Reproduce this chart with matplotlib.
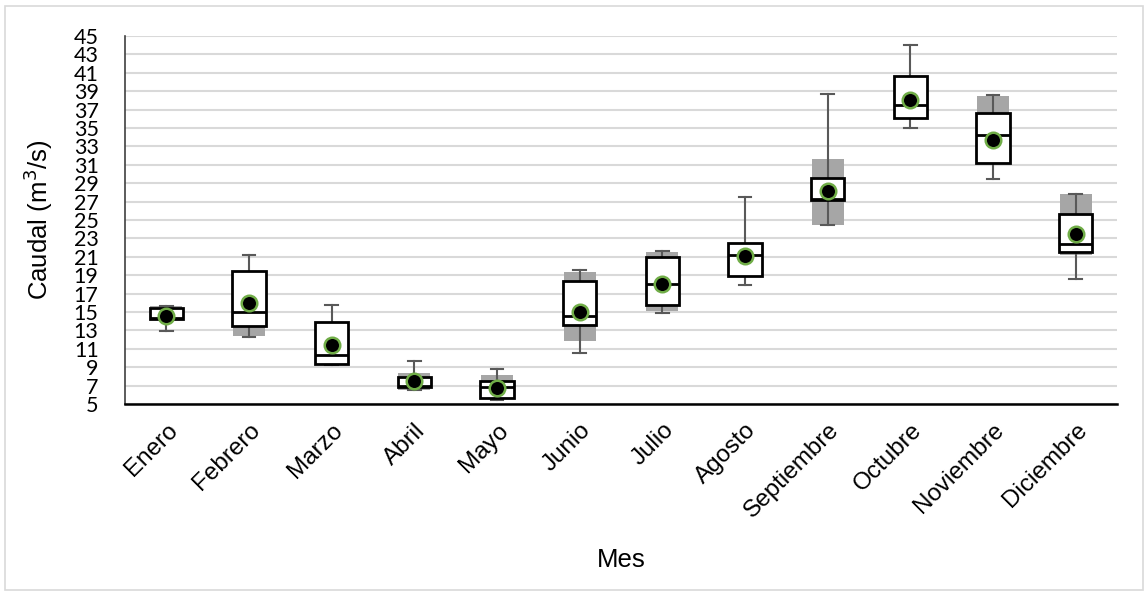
import matplotlib
matplotlib.use("Agg")
import matplotlib.pyplot as plt
from matplotlib.patches import Rectangle
import numpy as np

months = ["Enero", "Febrero", "Marzo", "Abril", "Mayo", "Junio", "Julio",
          "Agosto", "Septiembre", "Octubre", "Noviembre", "Diciembre"]
whisker_low = [12.9, 12.3, 9.25, 6.5, 5.4, 10.5, 14.85, 17.9, 24.45, 35.0, 29.45, 18.6]
q1 = [14.25, 13.5, 9.3, 6.85, 5.7, 13.6, 15.75, 18.95, 27.15, 36.1, 31.15, 21.5]
median = [14.4, 15.0, 10.3, 7.0, 6.9, 14.6, 18.0, 21.15, 27.25, 37.5, 34.2, 22.4]
q3 = [15.45, 19.45, 13.9, 7.95, 7.55, 18.35, 21.0, 22.5, 29.6, 40.6, 36.6, 25.7]
whisker_high = [15.65, 21.2, 15.8, 9.7, 8.85, 19.6, 21.6, 27.5, 38.7, 44.0, 38.6, 27.85]
mean = [14.6, 16.0, 11.45, 7.5, 6.7, 15.0, 18.0, 21.1, 28.2, 38.0, 33.7, 23.45]
band_low = [14.1, 12.35, 9.2, 6.5, 5.5, 11.8, 15.1, 18.95, 24.5, 36.1, 31.15, 21.2]
band_high = [15.7, 19.45, 13.9, 8.4, 8.1, 19.4, 21.5, 22.5, 31.6, 40.6, 38.5, 27.8]

plt.rcParams['font.family'] = ['Liberation Sans', 'DejaVu Sans']

fig = plt.figure(figsize=(11.44, 5.95), dpi=100)
ax = fig.add_axes([125/1144, 1 - 404/595, (1117 - 125)/1144, (404 - 36)/595])

# light border of the chart area
fig.patches.append(Rectangle((5/1144, 5/595), 1 - 6/1144, 1 - 11/595,
                             transform=fig.transFigure, fill=False,
                             edgecolor='#d9d9d9', linewidth=1.2))

pos = np.arange(len(months))

# grey band behind each box
ax.bar(pos, np.array(band_high) - np.array(band_low), bottom=band_low,
       width=0.39, color='#a6a6a6', zorder=1.5)

stats = []
for i in range(len(months)):
    stats.append(dict(whislo=whisker_low[i], q1=q1[i], med=median[i],
                      q3=q3[i], whishi=whisker_high[i], fliers=[]))

ax.bxp(stats, positions=pos, widths=0.40, capwidths=0.15, patch_artist=True,
       showfliers=False, manage_ticks=False,
       boxprops=dict(facecolor='white', edgecolor='black', linewidth=2, zorder=3),
       medianprops=dict(color='black', linewidth=2, zorder=4),
       whiskerprops=dict(color='#595959', linewidth=1.5, zorder=2),
       capprops=dict(color='#595959', linewidth=1.5, zorder=2))

ax.scatter(pos, mean, s=125, c='black', edgecolors='#70ad47', linewidths=1.8,
           zorder=5)

ax.set_xlim(-0.5, 11.5)
ax.set_ylim(5, 45)
ax.set_yticks(range(5, 46, 2))
ax.set_xticks(pos)
ax.set_xticklabels(months, rotation=45, ha='right', rotation_mode='anchor',
                   fontsize=17.5)
for lab in ax.get_yticklabels():
    lab.set_fontfamily('Lato')
    lab.set_fontsize(15.5)
ax.tick_params(axis='y', length=0, pad=19)
ax.tick_params(axis='x', length=0, pad=11)
ax.grid(axis='y', color='#d9d9d9', linewidth=1.5, zorder=0)
ax.set_axisbelow(True)

for s in ['top', 'right']:
    ax.spines[s].set_visible(False)
ax.spines['left'].set_color('#404040')
ax.spines['left'].set_linewidth(1.2)
ax.spines['bottom'].set_color('black')
ax.spines['bottom'].set_linewidth(1.8)

ax.set_ylabel('Caudal (m$^3$/s)', fontsize=18.5, labelpad=12)
ax.yaxis.set_label_coords(-70/992, 0.5)
ax.set_xlabel('Mes', fontsize=18.5)
ax.xaxis.set_label_coords(0.5, -(548 - 404)/368)

fig.savefig('out.png', dpi=100)
